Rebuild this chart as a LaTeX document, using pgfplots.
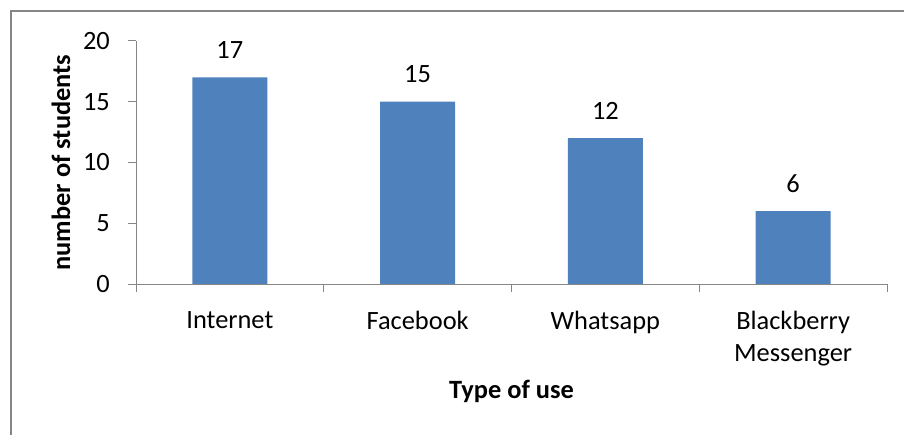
\documentclass[border=0pt]{standalone}
\usepackage{fontspec}
\setmainfont{Carlito}
\usepackage{pgfplots}
\pgfplotsset{compat=1.18}
\definecolor{barblue}{HTML}{4F81BD}
\definecolor{axisgray}{HTML}{868686}
\begin{document}
\begin{tikzpicture}
\path[use as bounding box] (0,0) rectangle (904bp,435bp);
\draw[axisgray, line width=1.2bp] (11bp,-5bp) -- (11bp,424bp) -- (910bp,424bp);
\begin{axis}[
    at={(136bp,151bp)}, anchor=south west,
    scale only axis,
    width=751bp, height=243bp,
    ybar, bar width=75bp,
    xmin=-0.5, xmax=3.5,
    ymin=0, ymax=20,
    ytick={0,5,10,15,20},
    xtick={0,1,2,3},
    xticklabels={Internet,Facebook,Whatsapp,{Blackberry\\Messenger}},
    minor xtick={-0.5,0.5,1.5,2.5,3.5},
    major x tick style={draw=none},
    minor tick length=8bp,
    major tick length=8bp,
    tick align=outside,
    axis x line*=bottom, axis y line*=left,
    axis line style={axisgray, line width=1bp},
    every tick/.style={axisgray, line width=1bp},
    x axis line style={-}, y axis line style={-},
    font=\fontsize{26.5}{32}\selectfont,
    /pgf/number format/assume math mode=true,
    xticklabel style={align=center, font=\fontsize{26.5}{32}\selectfont, anchor=north, yshift=-16bp},
    yticklabel style={anchor=east, inner sep=0pt, xshift=-18bp, font=\fontsize{26.5}{32}\selectfont},
    xlabel={\textbf{Type of use}},
    ylabel={\textbf{number of students}},
    every axis x label/.style={at={(axis description cs:0.5,0)}, anchor=base, yshift=-114bp, font=\fontsize{26.5}{32}\selectfont},
    every axis y label/.style={at={([xshift=-66bp]axis description cs:0,0.5)}, rotate=90, anchor=base, font=\fontsize{26.5}{32}\selectfont},
    nodes near coords,
    every node near coord/.append style={anchor=base, inner sep=0pt, yshift=19bp, black, font=\fontsize{26.5}{32}\selectfont},
]
\addplot[fill=barblue, draw=none] coordinates {(0,17) (1,15) (2,12) (3,6)};
\end{axis}
\end{tikzpicture}
\end{document}
